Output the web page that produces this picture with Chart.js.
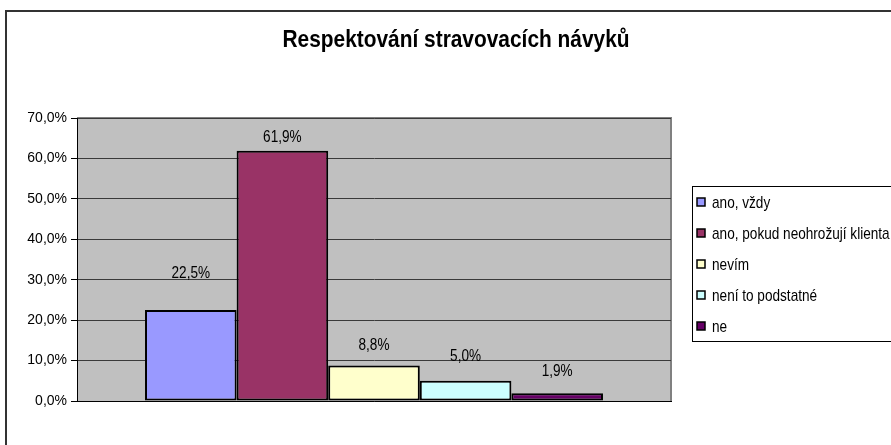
<!DOCTYPE html>
<html>
<head>
<meta charset="utf-8">
<script src="https://cdn.jsdelivr.net/npm/chart.js@4.4.0/dist/chart.umd.min.js"></script>
<style>
  html, body { margin:0; padding:0; background:#fff; overflow:hidden; width:891px; height:445px; }
  #frame { position:absolute; left:5px; top:10px; width:950px; height:500px; border:2px solid #333; box-sizing:border-box; }
  #wrap { position:absolute; left:0; top:0; width:912px; height:445px; }
</style>
</head>
<body>
<div id="frame"></div>
<div id="wrap"><canvas id="chart" width="912" height="445"></canvas></div>
<script>
// ========================== DATA ==========================
const title = "Respektování stravovacích návyků";
const seriesNames = ["ano, vždy", "ano, pokud neohrožují klienta", "nevím", "není to podstatné", "ne"];
const seriesValues = [22.5, 61.9, 8.8, 5.0, 1.9];
const valueLabels = ["22,5%", "61,9%", "8,8%", "5,0%", "1,9%"];
const tickLabels = ["0,0%", "10,0%", "20,0%", "30,0%", "40,0%", "50,0%", "60,0%", "70,0%"];

// ========================== STYLE ==========================
const colors = ["#9999FF", "#993366", "#FFFFCC", "#CCFFFF", "#660066"];
const labelOffsets = [36, 13, 20, 24, 22];
const FONT = "'Liberation Sans', Arial, sans-serif";

// narrow text helper (the original uses a condensed face)
function narrowText(ctx, txt, x, y, sx){
  ctx.save();
  ctx.translate(x, y);
  ctx.scale(sx, 1);
  ctx.fillText(txt, 0, 0);
  ctx.restore();
}

// ========================== PLUGINS ==========================
const plotBg = {
  id: "plotBg",
  beforeDraw(c){
    const a = c.chartArea, ctx = c.ctx;
    ctx.save();
    ctx.fillStyle = "#C0C0C0";
    ctx.fillRect(a.left, a.top, a.right - a.left, a.bottom - a.top);
    ctx.strokeStyle = "#808080";
    ctx.lineWidth = 2;
    ctx.beginPath();
    ctx.moveTo(a.left, a.top);
    ctx.lineTo(a.right, a.top);
    ctx.lineTo(a.right, a.bottom);
    ctx.stroke();
    ctx.restore();
  }
};

const extras = {
  id: "extras",
  afterDraw(c){
    const ctx = c.ctx;
    ctx.save();
    // title
    ctx.fillStyle = "#000";
    ctx.font = "bold 24px " + FONT;
    ctx.textAlign = "center";
    ctx.textBaseline = "middle";
    narrowText(ctx, title, 456, 40, 0.87);

    // value labels
    ctx.font = "16px " + FONT;
    c.data.datasets.forEach((ds, i) => {
      const bar = c.getDatasetMeta(i).data[0];
      narrowText(ctx, valueLabels[i], bar.x, bar.y - labelOffsets[i], 0.85);
    });

    // legend
    const lx = 692, ly = 186, lh = 155, step = 31;
    ctx.strokeStyle = "#000";
    ctx.lineWidth = 1;
    ctx.strokeRect(lx + 0.5, ly + 0.5, 260, lh);
    ctx.textAlign = "left";
    ctx.font = "17px " + FONT;
    c.data.datasets.forEach((ds, i) => {
      const y = 202 + i * step;
      ctx.fillStyle = ds.backgroundColor;
      ctx.fillRect(697, y - 4, 8, 8);
      ctx.lineWidth = 1.5;
      ctx.strokeRect(697, y - 4, 8, 8);
      ctx.fillStyle = "#000";
      narrowText(ctx, ds.label, 712, y + 1, 0.8);
    });
    ctx.restore();
  }
};

// ========================== CHART ==========================
function initChart(){
  const ctx = document.getElementById("chart").getContext("2d");
  new Chart(ctx, {
    type: "bar",
    data: {
      labels: [""],
      datasets: seriesNames.map((name, i) => ({
        label: name,
        data: [seriesValues[i]],
        backgroundColor: colors[i],
        borderColor: "#000",
        borderWidth: 2,
        borderSkipped: false,
        categoryPercentage: 0.771,
        barPercentage: 1
      }))
    },
    options: {
      responsive: false,
      animation: false,
      layout: { padding: { left: 0, right: 241, top: 118, bottom: 36 } },
      plugins: { legend: { display: false }, title: { display: false }, tooltip: { enabled: false } },
      scales: {
        x: {
          grid: { display: false },
          ticks: { display: false },
          border: { display: true, color: "#000", width: 1 }
        },
        y: {
          min: 0, max: 70,
          afterFit(s){ s.width = 77; },
          ticks: {
            stepSize: 10,
            color: "#000",
            padding: 4,
            font: { family: FONT, size: 14 },
            callback: (v, i) => tickLabels[i]
          },
          grid: { color: "#3a3a3a", lineWidth: 1, tickLength: 6, tickColor: "#000" },
          border: { display: true, color: "#000", width: 1 }
        }
      }
    },
    plugins: [plotBg, extras]
  });
}

window.onload = initChart;
</script>
</body>
</html>
